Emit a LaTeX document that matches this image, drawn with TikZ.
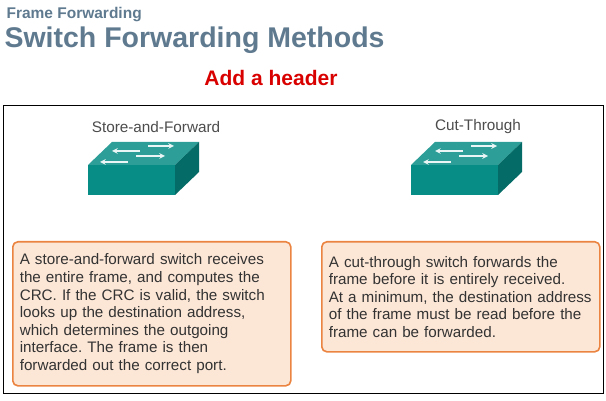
\documentclass[tikz,border=0pt]{standalone}
\usepackage{fontspec}
\setmainfont{Liberation Sans}
\frenchspacing
\usetikzlibrary{positioning}
\definecolor{ttl}{HTML}{5F7A8F}
\definecolor{boxfill}{HTML}{FCE6D6}
\definecolor{boxline}{HTML}{EB8440}
\definecolor{swtop}{HTML}{2E9E98}
\definecolor{swfront}{HTML}{078C86}
\definecolor{swside}{HTML}{056B66}
\tikzset{
  note/.style={draw=boxline,line width=1.6pt,fill=boxfill,rounded corners=5pt,anchor=north west,
    align=left,inner xsep=7pt,inner ysep=6pt,font=\fontsize{15.2}{17.6}\selectfont,text=black!80},
  swlabel/.style={font=\fontsize{15.3}{17}\selectfont,text=black!70}
}
\newcommand{\switchicon}[2]{%
  \begin{scope}[shift={(#1,#2)}]
    \fill[swtop] (0,0) -- (24,-23) -- (111,-23) -- (87,0) -- cycle;
    \fill[swfront] (0,0) -- (87,0) -- (87,30) -- (0,30) -- cycle;
    \fill[swside] (87,0) -- (111,-23) -- (111,7) -- (87,30) -- cycle;
    \draw[white!90!swtop,line width=1.5pt,-stealth] (60,-19) -- (86,-19);
    \draw[white!90!swtop,line width=1.5pt,-stealth] (52,-14) -- (24,-14);
    \draw[white!90!swtop,line width=1.5pt,-stealth] (48,-9) -- (77,-9);
    \draw[white!90!swtop,line width=1.5pt,-stealth] (40,-3) -- (12,-3);
  \end{scope}}
\begin{document}
\begin{tikzpicture}[x=1pt,y=-1pt]
\useasboundingbox (0,0) rectangle (606,401);
\node (sub) [anchor=west,text=ttl,font=\bfseries\fontsize{15.5}{17}\selectfont] at (3,15) {Frame Forwarding};
\node (title) [anchor=west,text=ttl,font=\bfseries\fontsize{28.5}{31}\selectfont] at (1,40) {Switch Forwarding Methods};
\node (header) [text=red!85!black,font=\bfseries\fontsize{21}{23}\selectfont] at (271,78) {Add a header};
\draw[black,line width=0.8pt] (3,105) rectangle (603,393);
\node (sflabel) [swlabel] at (156,127) {Store-and-Forward};
\node (ctlabel) [swlabel] at (478,127) {Cut-Through};
\switchicon{88}{165}
\switchicon{411}{165}
\node (sfnote) [note,text width=264pt,minimum height=144pt] at (12,241)
  {A store-and-forward switch receives\\the entire frame, and computes the\\CRC. If the CRC is valid, the switch\\looks up the destination address,\\which determines the outgoing\\interface. The frame is then\\forwarded out the correct port.};
\node (ctnote) [note,text width=264pt,minimum height=110pt] at (321,241)
  {A cut-through switch forwards the\\frame before it is entirely received.\\At a minimum, the destination address\\of the frame must be read before the\\frame can be forwarded.};
\end{tikzpicture}
\end{document}
